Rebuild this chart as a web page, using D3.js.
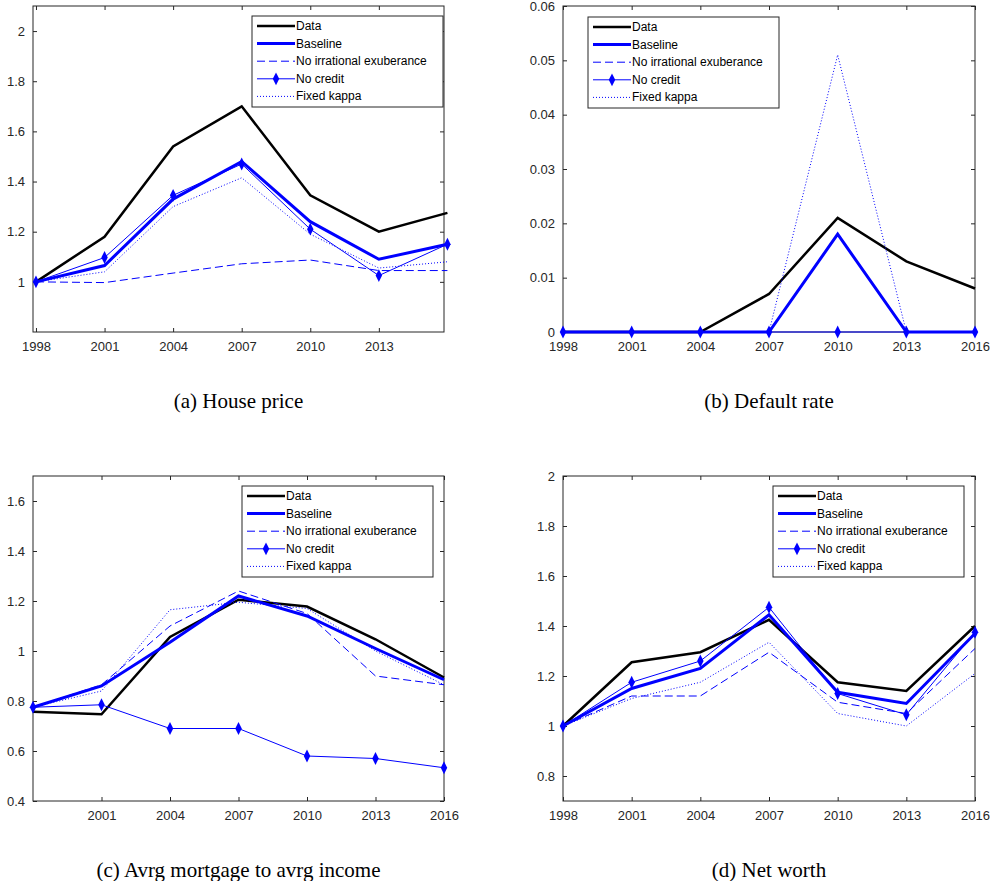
<!DOCTYPE html>
<html lang="en">
<head>
<meta charset="UTF-8">
<title>Model comparison</title>
<style>
    body { margin: 0; background: white; }
    .tick text { font-family: Helvetica, Arial, "Liberation Sans", sans-serif; font-size: 13px; fill: #262626; }
    .caption { font-family: "Liberation Serif", "Times New Roman", serif; font-size: 21px; fill: #000; }
    .legend text { font-family: Helvetica, Arial, "Liberation Sans", sans-serif; font-size: 12px; fill: #000; }
</style>
</head>
<body>
<svg id="chart" width="992" height="881"></svg>
<script src="https://d3js.org/d3.v7.min.js"></script>
<script>
    const years = [1998, 2001, 2004, 2007, 2010, 2013, 2016];
    const seriesNames = ["Data", "Baseline", "No irrational exuberance", "No credit", "Fixed kappa"];

    // (a) House price
    const priceData = [1.0, 1.18, 1.54, 1.70, 1.345, 1.20, 1.275];
    const priceBaseline = [1.0, 1.065, 1.33, 1.48, 1.24, 1.09, 1.15];
    const priceNoIrr = [1.0, 0.997, 1.035, 1.072, 1.087, 1.045, 1.045];
    const priceNoCredit = [1.0, 1.097, 1.345, 1.47, 1.21, 1.025, 1.15];
    const priceKappa = [1.0, 1.04, 1.30, 1.415, 1.19, 1.055, 1.08];

    // (b) Default rate
    const defData = [0, 0, 0, 0.007, 0.021, 0.013, 0.008];
    const defBaseline = [0, 0, 0, 0, 0.018, 0, 0];
    const defNoIrr = [0, 0, 0, 0, 0.018, 0, 0];
    const defNoCredit = [0, 0, 0, 0, 0, 0, 0];
    const defKappa = [0, 0, 0, 0, 0.051, 0, 0];

    // (c) Avrg mortgage to avrg income
    const mortData = [0.757, 0.747, 1.056, 1.205, 1.178, 1.047, 0.894];
    const mortBaseline = [0.775, 0.86, 1.035, 1.22, 1.14, 1.01, 0.885];
    const mortNoIrr = [0.775, 0.865, 1.10, 1.24, 1.15, 0.90, 0.865];
    const mortNoCredit = [0.775, 0.785, 0.69, 0.69, 0.58, 0.57, 0.533];
    const mortKappa = [0.775, 0.84, 1.165, 1.195, 1.17, 1.00, 0.865];

    // (d) Net worth
    const nwData = [1.0, 1.255, 1.295, 1.425, 1.175, 1.14, 1.40];
    const nwBaseline = [1.0, 1.15, 1.23, 1.445, 1.135, 1.09, 1.37];
    const nwNoIrr = [1.0, 1.12, 1.12, 1.295, 1.095, 1.05, 1.31];
    const nwNoCredit = [1.0, 1.175, 1.26, 1.475, 1.13, 1.045, 1.375];
    const nwKappa = [1.0, 1.11, 1.175, 1.335, 1.05, 1.0, 1.21];

    const styles = [
        { color: "#000", width: 2.5, dash: null, marker: false },
        { color: "#0000ff", width: 3, dash: null, marker: false },
        { color: "#0000ff", width: 1, dash: "8,4", marker: false },
        { color: "#0000ff", width: 1, dash: null, marker: true },
        { color: "#0000ff", width: 1, dash: "1,2", marker: false }
    ];

    const panels = [
        { box: [33, 6, 444, 332], x: [1997.87, 2015.85], y: [0.8, 2.1], yt: [1, 1.2, 1.4, 1.6, 1.8, 2], xt: [1998, 2001, 2004, 2007, 2010, 2013],
          series: [priceData, priceBaseline, priceNoIrr, priceNoCredit, priceKappa], legend: [252, 16], caption: "(a) House price", cy: 408 },
        { box: [563, 6, 975, 332], x: [1998, 2016], y: [0, 0.06], yt: [0, 0.01, 0.02, 0.03, 0.04, 0.05, 0.06], xt: years,
          series: [defData, defBaseline, defNoIrr, defNoCredit, defKappa], legend: [588, 17], caption: "(b) Default rate", cy: 408 },
        { box: [33, 476, 444, 801], x: [1998, 2016], y: [0.4, 1.7], yt: [0.4, 0.6, 0.8, 1, 1.2, 1.4, 1.6], xt: years.slice(1),
          series: [mortData, mortBaseline, mortNoIrr, mortNoCredit, mortKappa], legend: [242, 486], caption: "(c) Avrg mortgage to avrg income", cy: 877 },
        { box: [563, 476, 975, 801], x: [1998, 2016], y: [0.7, 2], yt: [0.8, 1, 1.2, 1.4, 1.6, 1.8, 2], xt: years,
          series: [nwData, nwBaseline, nwNoIrr, nwNoCredit, nwKappa], legend: [773, 486], caption: "(d) Net worth", cy: 877 }
    ];

    const svg = d3.select("#chart");
    const diamond = d3.symbol().type(d3.symbolDiamond).size(36);
    const diamondTf = "scale(1,1.15)";

    panels.forEach(p => {
        const [x0, y0, x1, y1] = p.box;
        const x = d3.scaleLinear().domain(p.x).range([x0, x1]);
        const y = d3.scaleLinear().domain(p.y).range([y1, y0]);
        const g = svg.append("g");

        const axes = [
            [d3.axisBottom(x).tickValues(p.xt).tickFormat(d3.format("d")), y1, "x"],
            [d3.axisTop(x).tickValues(p.xt).tickFormat(""), y0, "x"],
            [d3.axisLeft(y).tickValues(p.yt).tickFormat(d3.format("~g")), x0, "y"],
            [d3.axisRight(y).tickValues(p.yt).tickFormat(""), x1, "y"]
        ];
        axes.forEach(([ax, pos, kind], i) => {
            ax.tickSizeInner(-4).tickSizeOuter(0).tickPadding(i === 0 ? 10 : 8);
            const a = g.append("g").attr("transform", kind === "x" ? `translate(0,${pos})` : `translate(${pos},0)`).call(ax);
            a.select(".domain").remove();
            a.selectAll(".tick line").attr("stroke", "#262626");
        });
        g.append("rect").attr("x", x0).attr("y", y0).attr("width", x1 - x0).attr("height", y1 - y0)
            .attr("fill", "none").attr("stroke", "#262626").attr("stroke-width", 1);

        const line = d3.line().x((d, i) => x(years[i])).y(d => y(d));
        p.series.forEach((s, k) => {
            const st = styles[k];
            g.append("path").datum(s).attr("d", line).attr("fill", "none")
                .attr("stroke", st.color).attr("stroke-width", st.width)
                .attr("stroke-dasharray", st.dash);
            if (st.marker) {
                g.selectAll(null).data(s).join("path")
                    .attr("transform", (d, i) => `translate(${x(years[i])},${y(d)}) ${diamondTf}`)
                    .attr("d", diamond).attr("fill", st.color);
            }
        });

        // legend
        const [lx, ly] = p.legend;
        const lg = g.append("g").attr("class", "legend");
        lg.append("rect").attr("x", lx).attr("y", ly).attr("width", 191).attr("height", 91)
            .attr("fill", "white").attr("stroke", "#262626");
        seriesNames.forEach((n, k) => {
            const st = styles[k];
            const yy = ly + 10 + k * 17.6;
            lg.append("line").attr("x1", lx + 5).attr("x2", lx + 43).attr("y1", yy).attr("y2", yy)
                .attr("stroke", st.color).attr("stroke-width", st.width).attr("stroke-dasharray", st.dash);
            if (st.marker) lg.append("path").attr("transform", `translate(${lx + 24},${yy}) ${diamondTf}`)
                .attr("d", diamond).attr("fill", st.color);
            lg.append("text").attr("x", lx + 44).attr("y", yy + 4).text(n);
        });

        svg.append("text").attr("class", "caption").attr("x", (x0 + x1) / 2).attr("y", p.cy)
            .attr("text-anchor", "middle").text(p.caption);
    });
</script>
</body>
</html>
